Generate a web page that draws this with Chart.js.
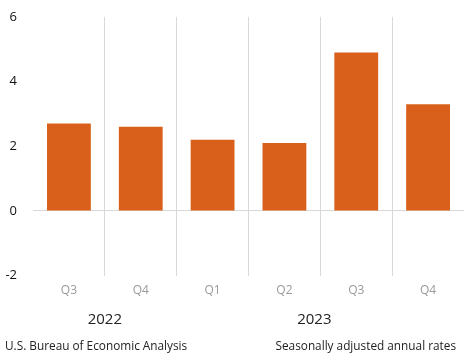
<!DOCTYPE html>
<html><head><meta charset="utf-8">
<script src="https://cdn.jsdelivr.net/npm/chart.js@4/dist/chart.umd.min.js"></script>
<style>html,body{margin:0;padding:0;background:#fff;overflow:hidden}#wrap{width:464px;height:357px;position:relative;overflow:hidden}#c{position:absolute;left:0;top:-7px}</style>
</head><body><div id="wrap"><canvas id="c" width="464" height="364"></canvas></div>
<script>
const categories = ["Q3","Q4","Q1","Q2","Q3","Q4"];
const values = [2.7, 2.6, 2.2, 2.1, 4.9, 3.3];
const yearLabels = ["2022","2023"];
const yearSpans = [[0,1],[2,5]];
const yTicks = [-2, 0, 2, 4, 6];
const sourceText = "U.S. Bureau of Economic Analysis";
const noteText = "Seasonally adjusted annual rates";
const FONT = "'Open Sans', sans-serif";
const SHIFT = 7;

const extras = {
  id: 'extras',
  afterDraw(chart) {
    const ctx = chart.ctx, x = chart.scales.x;
    ctx.save();
    ctx.fillStyle = '#222';
    ctx.font = "15px " + FONT;
    ctx.textAlign = 'center';
    ctx.textBaseline = 'middle';
    yearLabels.forEach((t, i) => {
      const a = x.getPixelForValue(yearSpans[i][0]), b = x.getPixelForValue(yearSpans[i][1]);
      ctx.fillText(t, (a + b) / 2 - (i === 1 ? 6 : 0), 320 + SHIFT);
    });
    ctx.font = "11.8px " + FONT;
    ctx.textAlign = 'left';
    ctx.fillText(sourceText, 5, 347 + SHIFT);
    ctx.textAlign = 'right';
    ctx.fillText(noteText, 456, 347 + SHIFT);
    ctx.restore();
  }
};

new Chart(document.getElementById('c'), {
  type: 'bar',
  data: { labels: categories, datasets: [{ data: values, backgroundColor: '#D9601A', categoryPercentage: 1, barPercentage: 0.61 }] },
  options: {
    responsive: false, animation: false,
    layout: { padding: { top: 0, right: 0, bottom: 51, left: 0 } },
    plugins: { legend: { display: false }, tooltip: { enabled: false } },
    scales: {
      x: {
        grid: { offset: true, drawTicks: false, lineWidth: 1,
          color: (c) => (c.index === 0 || c.index === categories.length) ? 'rgba(0,0,0,0)' : '#d9d9d9' },
        border: { display: false },
        ticks: { color: '#9a9a9a', font: { family: FONT, size: 12 }, padding: 8 }
      },
      y: {
        min: -2, max: 6,
        afterBuildTicks: (s) => { s.ticks = yTicks.map(v => ({ value: v })); },
        afterFit: (s) => { s.width = 33; },
        grid: { drawTicks: false, color: (c) => c.tick && c.tick.value === 0 ? '#d9d9d9' : 'rgba(0,0,0,0)' },
        border: { display: false },
        ticks: { color: '#111', font: { family: FONT, size: 13 }, padding: 16 }
      }
    }
  },
  plugins: [extras]
});
</script></body></html>
